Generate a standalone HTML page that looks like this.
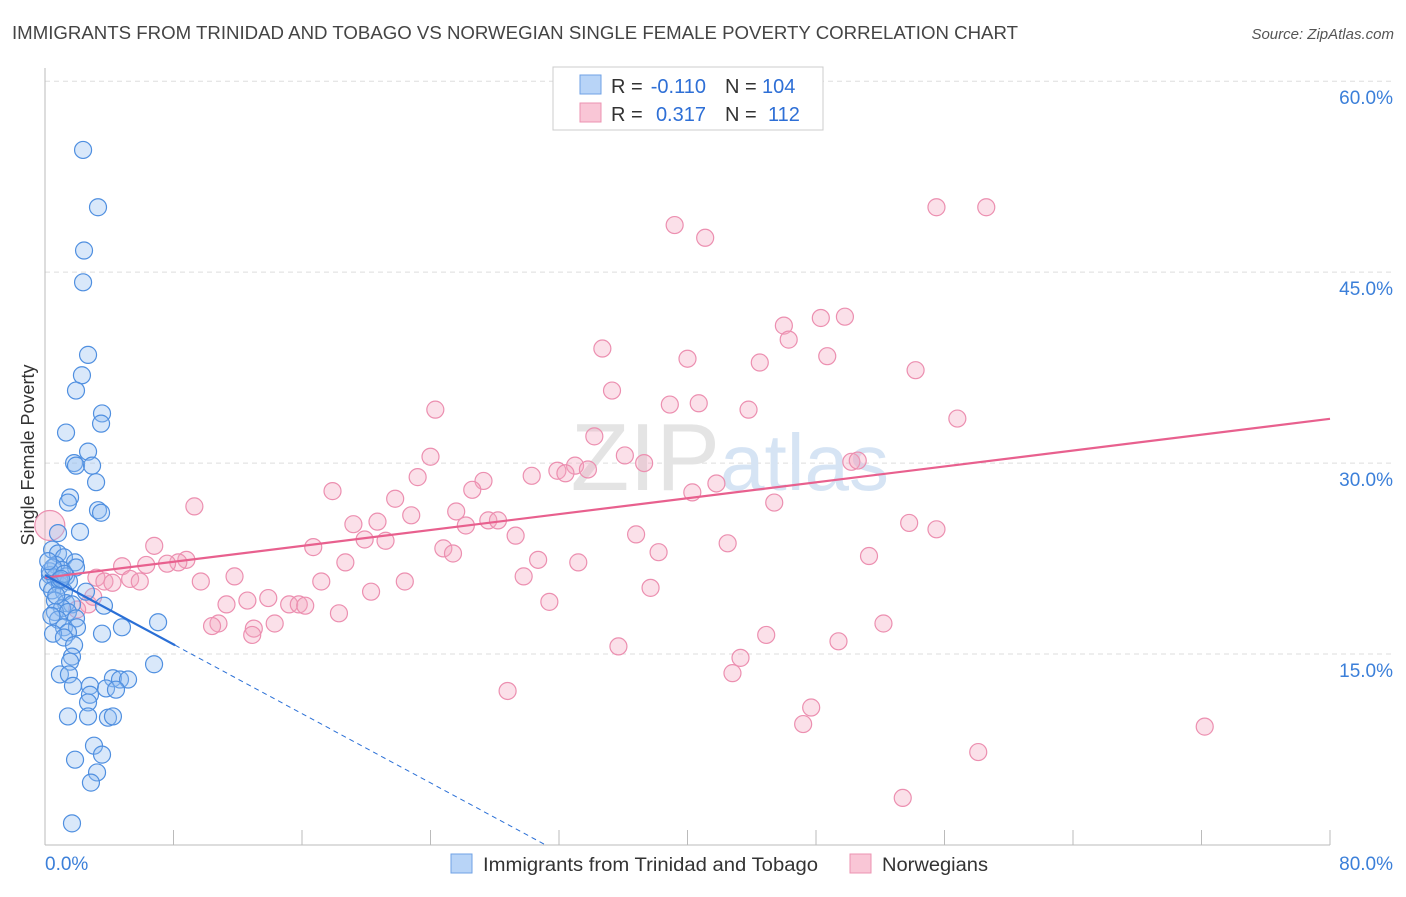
<!DOCTYPE html>
<html><head><meta charset="utf-8"><style>
body{margin:0;background:#fff;font-family:"Liberation Sans",sans-serif;}
svg text{font-family:"Liberation Sans",sans-serif;}
</style></head><body>
<svg width="1406" height="892" xmlns="http://www.w3.org/2000/svg" id="chart">
<text x="12" y="39" font-size="18" fill="#444" textLength="1006" lengthAdjust="spacingAndGlyphs">IMMIGRANTS FROM TRINIDAD AND TOBAGO VS NORWEGIAN SINGLE FEMALE POVERTY CORRELATION CHART</text>
<text x="1394" y="39" font-size="15" fill="#555" text-anchor="end" font-style="italic">Source: ZipAtlas.com</text>
<g id="grid"></g>
<text x="720" y="490" font-size="96" fill="#e4e4e4" text-anchor="end" font-family="Liberation Serif">ZIP</text>
<text x="720" y="490" font-size="80" fill="#d6e4f4">atlas</text>
<text x="34" y="455" font-size="18" fill="#333" text-anchor="middle" transform="rotate(-90 34 455)">Single Female Poverty</text>
<g id="ticks"></g>
<g id="pts"></g>
<g id="lines"></g>
<g>
<rect x="553" y="67" width="270" height="63" fill="#fff" stroke="#ccc"/>
<rect x="580" y="75" width="21" height="19" fill="#b8d4f7" stroke="#6fa2e6"/>
<rect x="580" y="103" width="21" height="19" fill="#f9c6d6" stroke="#ec93b1"/>
<text x="611" y="93" font-size="20" fill="#333">R =</text>
<text x="706" y="93" font-size="20" fill="#2e6fd6" text-anchor="end">-0.110</text>
<text x="725" y="93" font-size="20" fill="#333">N =</text>
<text x="762" y="93" font-size="20" fill="#2e6fd6">104</text>
<text x="611" y="121" font-size="20" fill="#333">R =</text>
<text x="706" y="121" font-size="20" fill="#2e6fd6" text-anchor="end">0.317</text>
<text x="725" y="121" font-size="20" fill="#333">N =</text>
<text x="768" y="121" font-size="20" fill="#2e6fd6">112</text>
</g>
<g>
<rect x="451" y="854" width="21" height="19" fill="#b8d4f7" stroke="#6fa2e6"/>
<text x="483" y="871" font-size="19" fill="#333" textLength="335" lengthAdjust="spacingAndGlyphs">Immigrants from Trinidad and Tobago</text>
<rect x="850" y="854" width="21" height="19" fill="#f9c6d6" stroke="#ec93b1"/>
<text x="882" y="871" font-size="19" fill="#333" textLength="106" lengthAdjust="spacingAndGlyphs">Norwegians</text>
</g>
</svg>
<script>
const blueX=[2.37,3.30,2.43,2.37,2.68,2.30,1.93,3.55,3.49,1.31,2.68,1.81,1.93,2.93,3.18,1.56,1.43,3.30,3.49,0.81,2.18,0.44,0.81,1.18,1.87,0.68,1.06,1.93,0.31,0.62,1.31,0.19,0.93,1.49,0.44,1.18,0.62,1.31,2.55,1.68,1.06,3.67,0.62,1.43,0.81,1.93,7.04,1.18,1.99,4.79,1.43,0.50,3.55,1.18,1.81,1.68,1.56,6.79,0.93,1.49,4.23,4.67,5.17,1.74,2.80,3.80,4.42,2.80,2.68,1.43,2.68,3.92,4.23,3.05,3.55,1.87,3.24,2.86,1.68,0.3,0.5,0.9,1.2,0.2,0.7,1.0,0.4];
const blueY=[54.6,50.1,46.7,44.2,38.5,36.9,35.7,33.9,33.1,32.4,30.9,30.0,29.8,29.8,28.5,27.3,26.9,26.3,26.1,24.5,24.6,23.2,22.9,22.6,22.2,22.0,21.6,21.8,21.2,21.0,21.1,20.5,20.4,20.7,20.0,19.9,19.2,19.0,19.9,18.9,18.6,18.8,18.3,18.3,17.7,17.8,17.5,17.1,17.1,17.1,16.7,16.6,16.6,16.3,15.7,14.8,14.4,14.2,13.4,13.4,13.1,13.0,13.0,12.5,12.5,12.3,12.2,11.8,11.2,10.1,10.1,10.0,10.1,7.8,7.1,6.7,5.7,4.9,1.7,21.5,21.8,20.8,21.3,22.3,19.6,20.9,18.0];
const pinkX=[39.2,41.1,55.5,58.6,46.0,48.3,49.8,46.3,34.7,40.0,44.5,48.7,54.2,35.3,38.9,40.7,43.8,24.3,56.8,34.2,24.0,36.1,50.2,50.6,37.3,33.0,31.9,32.4,33.8,23.2,27.3,30.3,41.8,26.6,17.9,40.3,21.8,45.4,9.3,25.6,22.8,20.7,27.6,28.2,19.2,53.8,55.5,26.2,36.8,29.3,19.9,21.2,42.5,24.8,16.7,6.8,25.4,38.2,51.3,30.7,8.8,8.3,7.6,6.3,4.8,18.7,33.2,11.8,29.8,3.2,5.3,3.7,4.2,5.9,9.7,17.2,22.4,37.7,20.3,13.9,12.6,31.4,11.3,15.2,15.8,16.2,2.7,18.3,10.8,10.4,14.3,13.0,52.2,12.9,44.9,49.4,35.7,43.3,42.8,28.8,47.7,47.2,72.2,58.1,53.4,0.3,2.0,3.0];
const pinkY=[48.7,47.7,50.1,50.1,40.8,41.4,41.5,39.7,39.0,38.2,37.9,38.4,37.3,35.7,34.6,34.7,34.2,34.2,33.5,32.1,30.5,30.6,30.1,30.2,30.0,29.8,29.4,29.2,29.5,28.9,28.6,29.0,28.4,27.9,27.8,27.7,27.2,26.9,26.6,26.2,25.9,25.4,25.5,25.5,25.2,25.3,24.8,25.1,24.4,24.3,24.0,23.9,23.7,23.3,23.4,23.5,22.9,23.0,22.7,22.4,22.4,22.2,22.1,22.0,21.9,22.2,22.2,21.1,21.1,21.0,20.9,20.7,20.6,20.7,20.7,20.7,20.7,20.2,19.9,19.4,19.2,19.1,18.9,18.9,18.9,18.8,18.9,18.2,17.4,17.2,17.4,17.0,17.4,16.5,16.5,16.0,15.6,14.7,13.5,12.1,10.8,9.5,9.3,7.3,3.7,25.1,18.5,19.5];
const blueLine=[21.2,-0.68];
const pinkLine=[21.0,0.156];
const xTicks=[0,80];
const yTicks=[15,30,45,60];
const NS='http://www.w3.org/2000/svg';
const X=v=>45+v*1285/80, Y=v=>845-v*12.73;
function mk(p,t,a){const e=document.createElementNS(NS,t);for(const k in a)e.setAttribute(k,a[k]);p.appendChild(e);return e;}
const grid=document.getElementById('grid'),ticks=document.getElementById('ticks'),pts=document.getElementById('pts'),lines=document.getElementById('lines');
for(const t of yTicks){
 const l=mk(grid,'line',{x1:45,x2:1394,y1:Y(t),y2:Y(t),stroke:'#ddd','stroke-dasharray':'5,4'});
 
 
 const tx=mk(ticks,'text',{x:1393,y:Y(t)+23,'font-size':19,fill:'#3b7fd9','text-anchor':'end'});tx.textContent=t.toFixed(1)+'%';
 
 
}
mk(grid,'line',{x1:45,x2:45,y1:68,y2:845,stroke:'#bbb'});
mk(grid,'line',{x1:45,x2:1330,y1:845,y2:845,stroke:'#bbb'});
for(let i=0;i<=10;i++){mk(grid,'line',{x1:X(i*8),x2:X(i*8),y1:845,y2:830,stroke:'#bbb'});}
xTicks.forEach((t,i)=>{const tx=mk(ticks,'text',{x:i?1393:45,y:870,'font-size':19,fill:'#3b7fd9','text-anchor':i?'end':'start'});tx.textContent=t.toFixed(1)+'%';
 
 });
pinkX.forEach((x,i)=>{const c=mk(pts,'circle',{cx:X(x),cy:Y(pinkY[i]),r:i==105?15:8.5,fill:'#f4a7c1','fill-opacity':0.35,stroke:'#ec8fb0','stroke-width':1.2});
 
 });
blueX.forEach((x,i)=>{const c=mk(pts,'circle',{cx:X(x),cy:Y(blueY[i]),r:8.5,fill:'#93bdf0','fill-opacity':0.35,stroke:'#4f8fe0','stroke-width':1.2});
 
 });
const pl=mk(lines,'line',{x1:X(0),y1:Y(pinkLine[0]),x2:X(80),y2:Y(pinkLine[0]+80*pinkLine[1]),stroke:'#e8608e','stroke-width':2.2});


const bl=mk(lines,'line',{x1:X(0),y1:Y(blueLine[0]),x2:X(8.1),y2:Y(blueLine[0]+8.1*blueLine[1]),stroke:'#2a6fd6','stroke-width':2.2});


const x0=-blueLine[0]/blueLine[1];
const bd=mk(lines,'line',{x1:X(8.1),y1:Y(blueLine[0]+8.1*blueLine[1]),x2:X(x0),y2:Y(0),stroke:'#2a6fd6','stroke-width':1,'stroke-dasharray':'5,4'});


</script>
</body></html>
